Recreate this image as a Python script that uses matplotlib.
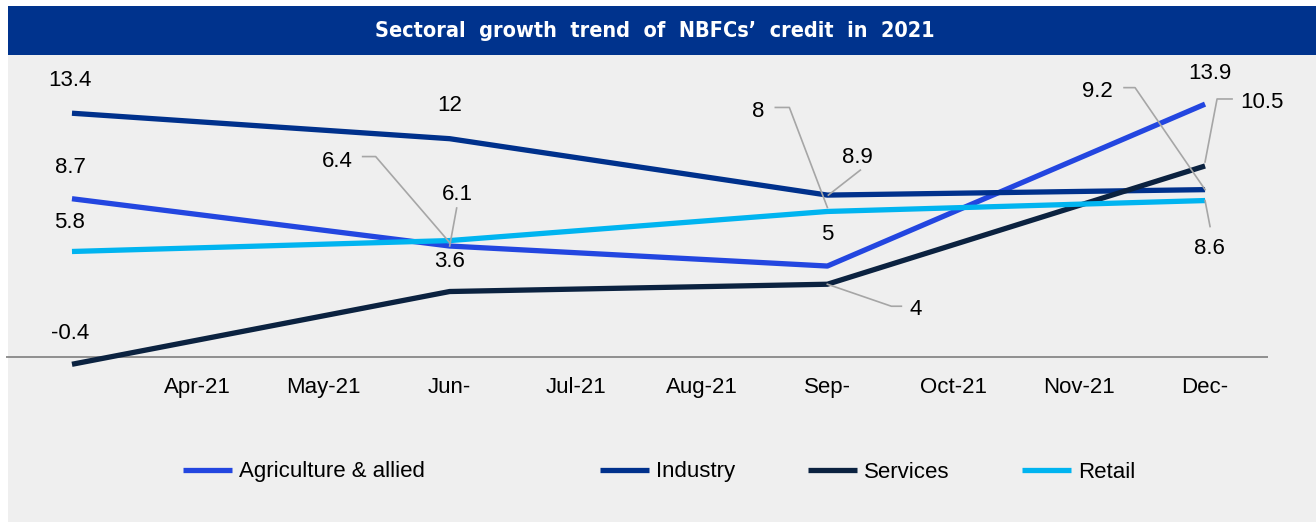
import matplotlib
matplotlib.use("Agg")
import matplotlib.pyplot as plt
from matplotlib.lines import Line2D
from matplotlib.patches import Rectangle
from matplotlib.transforms import IdentityTransform

plt.rcParams['font.family'] = ['Liberation Sans Narrow', 'Liberation Sans', 'DejaVu Sans']

# quarter-end points sit on month positions 0 (Mar), 3 (Jun), 6 (Sep), 9 (Dec)
quarter_pos = [0, 3, 6, 9]
month_pos = [1, 2, 3, 4, 5, 6, 7, 8, 9]
month_labels = ["Apr-21", "May-21", "Jun-", "Jul-21", "Aug-21", "Sep-", "Oct-21", "Nov-21", "Dec-"]

agriculture = [8.7, 6.1, 5.0, 13.9]
industry = [13.4, 12.0, 8.9, 9.2]
services = [-0.4, 3.6, 4.0, 10.5]
retail = [5.8, 6.4, 8.0, 8.6]

series = [
    ("Agriculture & allied", agriculture, "#2346e0"),
    ("Industry", industry, "#00318c"),
    ("Services", services, "#0b2240"),
    ("Retail", retail, "#00b4f0"),
]

FS = 16

W, H = 1316, 522
fig = plt.figure(figsize=(W / 100, H / 100), dpi=100)
fig.patch.set_facecolor("white")


def fx(px):
    return px / W


def fy(py):
    return 1 - py / H


# grey panel and title band
fig.add_artist(Rectangle((fx(8), 0), 1 - fx(8), fy(55), transform=fig.transFigure,
                         facecolor="#efefef", edgecolor="none", zorder=0))
fig.add_artist(Rectangle((fx(8), fy(55)), 1 - fx(8), fy(6) - fy(55), transform=fig.transFigure,
                         facecolor="#00338d", edgecolor="none", zorder=0))
fig.text(fx(655), fy(31), "Sectoral  growth  trend  of  NBFCs’  credit  in  2021",
         ha="center", va="center", color="white", fontsize=15.5, fontweight="bold",
         family=["DejaVu Sans"], fontstretch="condensed")

ax = fig.add_axes([fx(6), fy(370), fx(1268) - fx(6), fy(55) - fy(370)])
ax.set_facecolor("none")
ax.set_xlim(-0.524, 9.5)
ax.set_ylim(-0.714, 16.6)
for s in ax.spines.values():
    s.set_visible(False)
ax.axhline(0, color="#7f7f7f", lw=1.2, zorder=1)
ax.set_yticks([])
ax.set_xticks(month_pos)
ax.set_xticklabels(month_labels, fontsize=FS)
ax.tick_params(axis="x", length=0, pad=5)

lines = []
for name, vals, col in series:
    ln, = ax.plot(quarter_pos, vals, color=col, lw=3.8, label=name, solid_capstyle="butt", zorder=3)
    lines.append(ln)

# value labels: (series values, point index, label offset in px)
plain_labels = [
    (industry, 0, (-2, 33)), (industry, 1, (0, 33)), (industry, 2, (30, 38)),
    (agriculture, 0, (-2, 31)), (agriculture, 2, (0, 32)), (agriculture, 3, (5, 31)),
    (agriculture, 1, (8, 52)),
    (retail, 0, (-2, 29)), (retail, 1, (-112, 79)), (retail, 2, (-69, 100)), (retail, 3, (4, -48)),
    (services, 0, (-2, 31)), (services, 1, (0, 30)), (services, 2, (88, -25)), (services, 3, (57, 63)),
    (industry, 3, (-108, 98)),
]

# leader lines, vertices in px relative to the point
leaders = [
    (industry, 2, [(1, 0), (33, 25)]),
    (industry, 3, [(0, 0), (-70, 102), (-81, 102)]),
    (services, 3, [(0, 4), (12, 67), (27, 67)]),
    (retail, 2, [(0, 4), (-38, 104), (-52, 104)]),
    (services, 2, [(0, 0), (64, -22), (74, -22)]),
    (retail, 3, [(0, 0), (5, -26)]),
    (retail, 1, [(0, -2), (-74, 84), (-87, 84)]),
    (agriculture, 1, [(0, 0), (7, 38)]),
]


def fmt(v):
    return f"{v:g}"


fig.canvas.draw()
for vals, i, (dx, dy) in plain_labels:
    ax.annotate(fmt(vals[i]), (quarter_pos[i], vals[i]), xytext=(dx, dy),
                textcoords="offset pixels", ha="center", va="center", fontsize=FS,
                color="black", zorder=5)

for vals, i, pts in leaders:
    px, py = ax.transData.transform((quarter_pos[i], vals[i]))
    fig.add_artist(Line2D([px + dx for dx, dy in pts], [py + dy for dx, dy in pts],
                          transform=IdentityTransform(), color="#a6a6a6", lw=1.2, zorder=4))

# legend in two groups to reproduce the wide gap after the first entry
leg_kw = dict(frameon=False, fontsize=FS, handlelength=2.2, handletextpad=0.3,
              borderpad=0, borderaxespad=0)
fig.legend(handles=lines[:1], loc="center left",
           bbox_to_anchor=(fx(183), fy(472)), ncol=1, **leg_kw)
fig.legend(handles=lines[1:], loc="center left",
           bbox_to_anchor=(fx(600), fy(472)), ncol=3, columnspacing=3.3, **leg_kw)

fig.savefig("out.png", dpi=100, facecolor=fig.get_facecolor())
